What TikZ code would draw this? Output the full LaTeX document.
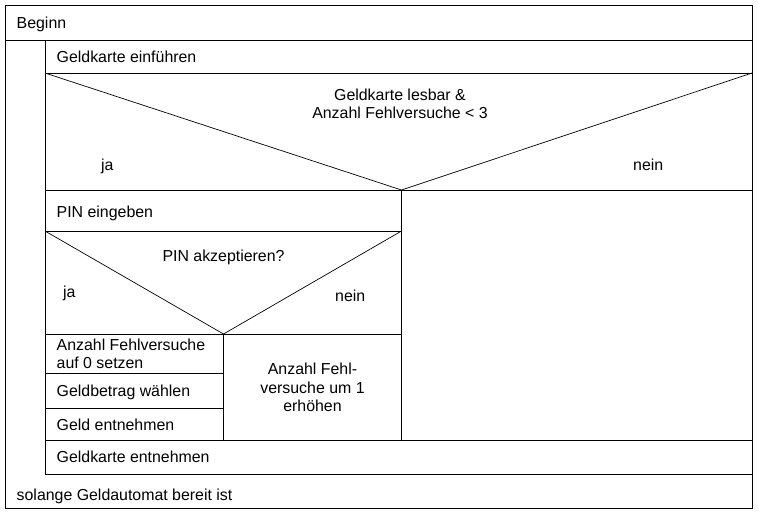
\documentclass[tikz,border=0pt]{standalone}
\usepackage{fontspec}
\setmainfont{Liberation Sans}
\begin{document}
\begin{tikzpicture}[x=1pt,y=-1pt,
  lin/.style={draw=black,line width=0.9pt},
  thin/.style={draw=black,line width=0.7pt},
  lbl/.style={inner sep=0pt,anchor=base west,font=\fontsize{15.9}{18.3}\selectfont},
  clbl/.style={inner sep=0pt,anchor=base,font=\fontsize{15.9}{18.3}\selectfont,align=center}]
\useasboundingbox[fill=white] (0,0) rectangle (759,515);
% outer loop frame
\draw[lin] (5,5) rectangle (752,508);
\draw[lin] (5,40) -- (752,40);
\draw[lin] (45,40) -- (45,474) -- (752,474);
% sequence lines
\draw[lin] (45,73) -- (752,73);
% decision 1
\coordinate (d1l) at (45,73);
\coordinate (d1r) at (752,73);
\coordinate (d1a) at (401.5,190);
\draw[thin] (d1l) -- (d1a) -- (d1r);
\draw[lin] (45,190) -- (752,190);
\draw[lin] (401.5,190) -- (401.5,440);
% PIN eingeben
\draw[lin] (45,231) -- (401.5,231);
% decision 2
\coordinate (d2l) at (45,231);
\coordinate (d2r) at (401.5,231);
\coordinate (d2a) at (223.5,334);
\draw[thin] (d2l) -- (d2a) -- (d2r);
\draw[lin] (45,334) -- (401.5,334);
\draw[lin] (223.5,334) -- (223.5,440);
\draw[lin] (45,373.5) -- (223.5,373.5);
\draw[lin] (45,408.5) -- (223.5,408.5);
\draw[lin] (45,440) -- (752,440);
% texts
\node[lbl] (beginn) at (16.5,28.5) {Beginn};
\node[lbl] (einf) at (56.5,62.5) {Geldkarte einführen};
\node[clbl] (cond1) at (400,118.5) {Geldkarte lesbar \&\\Anzahl Fehlversuche < 3};
\node[lbl] (ja1) at (101,170) {ja};
\node[lbl] (nein1) at (633,170) {nein};
\node[lbl] (pin) at (56.5,217) {PIN eingeben};
\node[clbl] (cond2) at (223.5,261.5) {PIN akzeptieren?};
\node[lbl] (ja2) at (63,297.5) {ja};
\node[lbl] (nein2) at (335,301.5) {nein};
\node[lbl,align=left] (null) at (56.5,368.5) {Anzahl Fehlversuche\\auf 0 setzen};
\node[lbl] (betrag) at (56.5,396.5) {Geldbetrag wählen};
\node[lbl] (geld) at (56.5,430) {Geld entnehmen};
\node[clbl] (erh) at (312.5,411.5) {Anzahl Fehl-\\versuche um 1\\erhöhen};
\node[lbl] (karte) at (56.5,462.5) {Geldkarte entnehmen};
\node[lbl] (solange) at (16.5,500.5) {solange Geldautomat bereit ist};
\end{tikzpicture}
\end{document}
